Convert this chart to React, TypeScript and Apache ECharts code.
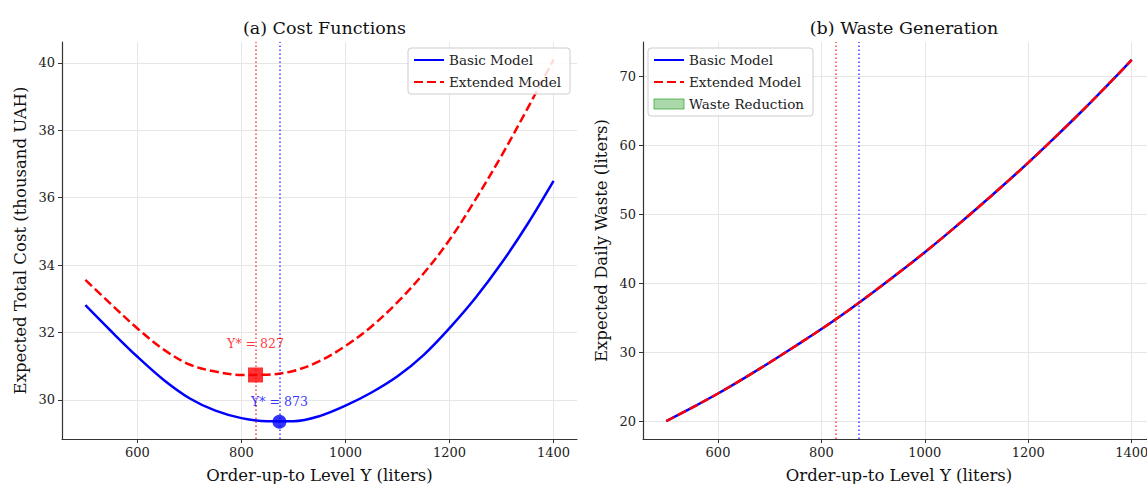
import React, { useEffect, useRef } from "react";
import * as echarts from "echarts";

// ---- data ----
const Y_LEVELS = [500, 550, 600, 650, 700, 750, 800, 850, 900, 950, 1000, 1050, 1100, 1150, 1200, 1250, 1300, 1350, 1400];
const COST_BASIC = [32.81, 32.03, 31.28, 30.6, 30.05, 29.68, 29.46, 29.37, 29.37, 29.52, 29.83, 30.22, 30.7, 31.33, 32.13, 33.03, 34.06, 35.22, 36.5];
const COST_EXTENDED = [33.56, 32.83, 32.12, 31.5, 31.05, 30.84, 30.74, 30.75, 30.86, 31.15, 31.6, 32.18, 32.9, 33.75, 34.75, 35.95, 37.25, 38.65, 40.1];
const WASTE_BASIC = [20.0, 21.95, 24.0, 26.2, 28.5, 30.9, 33.35, 35.95, 38.7, 41.55, 44.5, 47.6, 50.8, 54.1, 57.5, 61.05, 64.7, 68.5, 72.4];
const WASTE_EXTENDED = [20.0, 21.95, 24.0, 26.2, 28.5, 30.9, 33.35, 35.95, 38.7, 41.55, 44.5, 47.6, 50.8, 54.1, 57.5, 61.05, 64.7, 68.5, 72.4];
const OPT_BASIC = [873, 29.35];
const OPT_EXTENDED = [827, 30.74];
const X_TICKS = [600, 800, 1000, 1200, 1400];
const COST_TICKS = [30, 32, 34, 36, 38, 40];
const WASTE_TICKS = [20, 30, 40, 50, 60, 70];

const FONT = "DejaVu Serif";
const BLUE = "#0000ff";
const RED = "#ff0000";
const AXIS_COLOR = "#333333";
const GRID_COLOR = "#e6e6e6";

function pairs(xs: number[], ys: number[]) {
  return xs.map((x, i) => [x, ys[i]]);
}

const plain = (v: number) => String(v);

function xAxisCfg(gridIndex: number) {
  return {
    type: "value",
    gridIndex,
    min: 455,
    max: 1445,
    name: "Order-up-to Level Y (liters)",
    nameLocation: "middle",
    nameGap: 28,
    nameTextStyle: { fontFamily: FONT, fontSize: 16.5, color: "#111" },
    axisLine: { show: true, onZero: false, lineStyle: { color: AXIS_COLOR, width: 1.2 } },
    axisTick: { show: true, customValues: X_TICKS, length: 4, lineStyle: { color: AXIS_COLOR, width: 1 } },
    axisLabel: { customValues: X_TICKS, formatter: plain, fontFamily: FONT, fontSize: 13, color: "#222", margin: 7 },
    splitLine: { show: true, lineStyle: { color: GRID_COLOR, width: 1 } },
  };
}

function yAxisCfg(gridIndex: number, name: string, min: number, max: number, ticks: number[]) {
  return {
    type: "value",
    gridIndex,
    min,
    max,
    name,
    nameLocation: "middle",
    nameGap: 33,
    nameTextStyle: { fontFamily: FONT, fontSize: 16.5, color: "#111" },
    axisLine: { show: true, onZero: false, lineStyle: { color: AXIS_COLOR, width: 1.2 } },
    axisTick: { show: true, customValues: ticks, length: 4, lineStyle: { color: AXIS_COLOR, width: 1 } },
    axisLabel: { customValues: ticks, formatter: plain, fontFamily: FONT, fontSize: 13, color: "#222", margin: 7 },
    splitLine: { show: true, lineStyle: { color: GRID_COLOR, width: 1 } },
  };
}

function vLines() {
  return {
    silent: true,
    symbol: ["none", "none"],
    label: { show: false },
    data: [
      { xAxis: OPT_EXTENDED[0], lineStyle: { color: RED, type: [1.5, 2.5], width: 1.5, opacity: 0.75 } },
      { xAxis: OPT_BASIC[0], lineStyle: { color: BLUE, type: [1.5, 2.5], width: 1.5, opacity: 0.75 } },
    ],
  };
}

export default function App() {
  const ref = useRef<HTMLDivElement>(null);
  useEffect(() => {
    if (!ref.current) return;
    const chart = echarts.init(ref.current, undefined, { renderer: "svg" });
    const legendText = { fontFamily: FONT, fontSize: 13.5, color: "#222" };
    const legendBox = {
      orient: "vertical",
      itemWidth: 30,
      itemHeight: 10,
      itemGap: 8,
      itemTextGap: 9,
      textStyle: legendText,
      itemStyle: { opacity: 0 },
      backgroundColor: "rgba(255,255,255,0.85)",
      borderColor: "#cccccc",
      borderWidth: 1,
      borderRadius: 3,
      padding: [5, 9, 5, 5],
    };
    chart.setOption({
      animation: false,
      backgroundColor: "#ffffff",
      title: [
        { text: "(a) Cost Functions", left: 319.5, top: 14, textAlign: "center", textStyle: { fontFamily: FONT, fontSize: 17.5, fontWeight: "normal", color: "#111" } },
        { text: "(b) Waste Generation", left: 899, top: 14, textAlign: "center", textStyle: { fontFamily: FONT, fontSize: 17.5, fontWeight: "normal", color: "#111" } },
      ],
      legend: [
        { ...legendBox, left: 408, top: 48, data: ["Basic Model", "Extended Model"] },
        {
          ...legendBox,
          left: 648,
          top: 48,
          data: [
            "Basic Model",
            "Extended Model",
            { name: "Waste Reduction", icon: "rect", itemStyle: { opacity: 1, color: "rgba(44,160,44,0.4)", borderColor: "rgba(44,160,44,0.7)", borderWidth: 1 } },
          ],
        },
      ],
      grid: [
        { left: 62, top: 42, width: 515, height: 397, outerBoundsMode: "none", containLabel: false },
        { left: 643, top: 42, width: 512, height: 397, outerBoundsMode: "none", containLabel: false },
      ],
      xAxis: [xAxisCfg(0), xAxisCfg(1)],
      yAxis: [
        yAxisCfg(0, "Expected Total Cost (thousand UAH)", 28.84, 40.62, COST_TICKS),
        yAxisCfg(1, "Expected Daily Waste (liters)", 17.4, 75.0, WASTE_TICKS),
      ],
      series: [
        {
          name: "Basic Model",
          type: "line",
          xAxisIndex: 0,
          yAxisIndex: 0,
          data: pairs(Y_LEVELS, COST_BASIC),
          smooth: 0.35,
          symbol: "none",
          lineStyle: { color: BLUE, width: 2.5 },
          itemStyle: { color: BLUE },
          markLine: vLines(),
          z: 3,
        },
        {
          name: "Extended Model",
          type: "line",
          xAxisIndex: 0,
          yAxisIndex: 0,
          data: pairs(Y_LEVELS, COST_EXTENDED),
          smooth: 0.35,
          symbol: "none",
          lineStyle: { color: RED, width: 2.5, type: [9, 4] },
          itemStyle: { color: RED },
          z: 3,
        },
        {
          name: "Optimum Extended",
          type: "scatter",
          xAxisIndex: 0,
          yAxisIndex: 0,
          data: [OPT_EXTENDED],
          symbol: "rect",
          symbolSize: 15,
          itemStyle: { color: RED },
          label: { show: true, position: "top", distance: 17, formatter: (p: any) => `Y* = ${p.value[0]}`, color: RED, fontFamily: FONT, fontSize: 12.5 },
          z: 5,
        },
        {
          name: "Optimum Basic",
          type: "scatter",
          xAxisIndex: 0,
          yAxisIndex: 0,
          data: [OPT_BASIC],
          symbol: "circle",
          symbolSize: 14,
          itemStyle: { color: BLUE },
          label: { show: true, position: "top", distance: 7, formatter: (p: any) => `Y* = ${p.value[0]}`, color: BLUE, fontFamily: FONT, fontSize: 12.5 },
          z: 5,
        },
        {
          name: "Basic Model",
          type: "line",
          xAxisIndex: 1,
          yAxisIndex: 1,
          data: pairs(Y_LEVELS, WASTE_BASIC),
          smooth: 0.35,
          symbol: "none",
          lineStyle: { color: BLUE, width: 2.5 },
          itemStyle: { color: BLUE },
          markLine: vLines(),
          z: 3,
        },
        {
          name: "Extended Model",
          type: "line",
          xAxisIndex: 1,
          yAxisIndex: 1,
          data: pairs(Y_LEVELS, WASTE_EXTENDED),
          smooth: 0.35,
          symbol: "none",
          lineStyle: { color: RED, width: 2.5, type: [9, 4] },
          itemStyle: { color: RED },
          z: 4,
        },
        {
          name: "Waste Reduction",
          type: "bar",
          xAxisIndex: 1,
          yAxisIndex: 1,
          data: [],
          itemStyle: { color: "rgba(44,160,44,0.4)", borderColor: "rgba(44,160,44,0.7)" },
        },
      ],
    });
    return () => chart.dispose();
  }, []);
  return <div ref={ref} style={{ position: "fixed", left: 0, top: 0, width: 1147, height: 484 }} />;
}
